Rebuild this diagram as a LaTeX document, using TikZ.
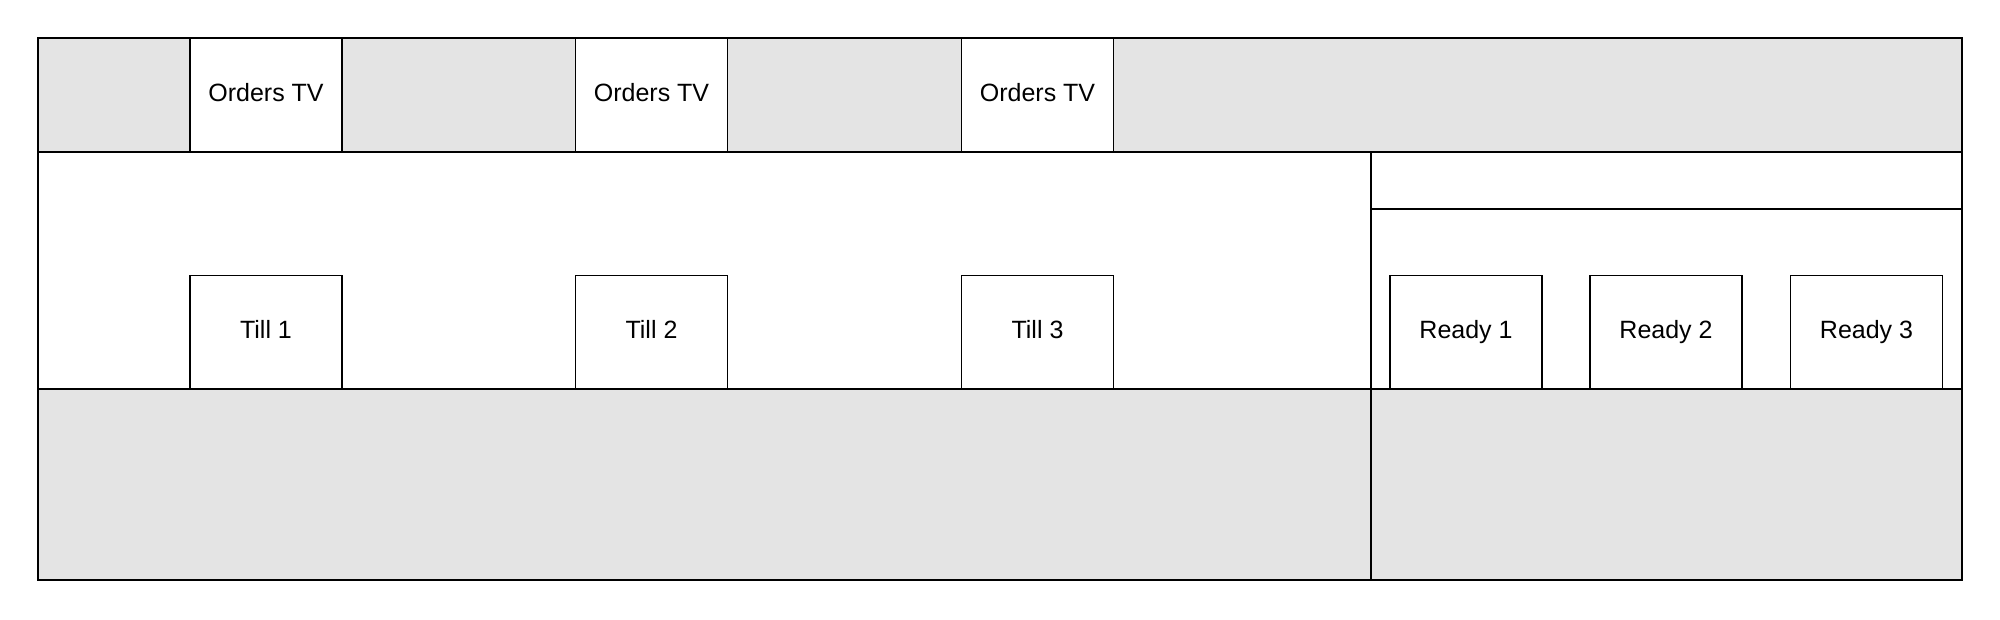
\documentclass[tikz,border=0pt]{standalone}
\usepackage{fontspec}
\setmainfont{Liberation Sans}
\usepackage{tikz}
\usetikzlibrary{positioning}
\usepackage{xcolor}
\definecolor{bandgray}{HTML}{E4E4E4}

\tikzset{
  band/.style={draw, line width=1.4pt, fill=bandgray},
  unit/.style={draw, line width=1.4pt, fill=white, minimum width=152pt,
    minimum height=114pt, inner sep=0pt, text height=18pt, text depth=5pt,
    font=\fontsize{25}{30}\selectfont}
}

\begin{document}
\begin{tikzpicture}[x=1pt, y=-1pt]
    \useasboundingbox (0,0) rectangle (2000,619);
    % bands
    \draw[band] (38,38) rectangle (1962,152);
    \draw[line width=1.4pt, fill=white] (38,152) rectangle (1962,389);
    \draw[band] (38,389) rectangle (1962,580);
    \draw[line width=1.4pt] (1371,152) -- (1371,580);
    \draw[line width=1.4pt] (1371,209) -- (1962,209);
    % orders screens
    \node[unit] (tv1) at (266,95) {Orders TV};
    \node[unit] (tv2) at (651.5,95) {Orders TV};
    \node[unit] (tv3) at (1037.5,95) {Orders TV};
    % tills
    \node[unit, minimum height=113.5pt] (till1) at (266,332.25) {Till 1};
    \node[unit, minimum height=113.5pt] (till2) at (651.5,332.25) {Till 2};
    \node[unit, minimum height=113.5pt] (till3) at (1037.5,332.25) {Till 3};
    % ready points
    \node[unit, minimum height=113.5pt] (ready1) at (1466,332.25) {Ready 1};
    \node[unit, minimum height=113.5pt] (ready2) at (1666,332.25) {Ready 2};
    \node[unit, minimum height=113.5pt] (ready3) at (1866.5,332.25) {Ready 3};
\end{tikzpicture}
\end{document}
